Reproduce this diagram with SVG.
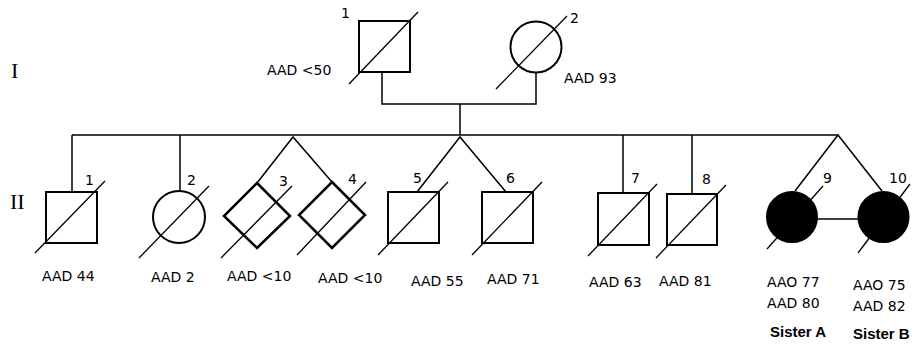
<svg xmlns="http://www.w3.org/2000/svg" width="920" height="345" viewBox="0 0 920 345">
<style>
.bg{fill:#fff}
.ln{stroke:#000;stroke-width:1.5;fill:none}
.sh{stroke:#000;stroke-width:2;fill:#fff}
.dm{stroke:#000;stroke-width:2.5;fill:#fff}
.af{stroke:#000;stroke-width:2;fill:#000}
.dg{stroke:#000;stroke-width:1.3}
.t{font-family:"DejaVu Sans",Verdana,sans-serif;font-size:14px;fill:#000}
.b{font-family:"Liberation Sans",Arial,sans-serif;font-size:15px;font-weight:bold;fill:#000}
.r{font-family:"Liberation Serif","Times New Roman",serif;font-size:22px;fill:#000}
</style>
<rect class="bg" x="0" y="0" width="920" height="345"/>
<text class="r" x="11" y="78">I</text>
<text class="r" x="10" y="209">II</text>
<g id="connectors">
<path class="ln" d="M382 72 V104 H536 V73"/>
<path class="ln" d="M460 104 V135"/>
<path class="ln" d="M72 135 H838"/>
<path class="ln" d="M72 135 V192"/>
<path class="ln" d="M180 135 V191"/>
<path class="ln" d="M257 183 L293 137 L332 182"/>
<path class="ln" d="M417 192 L460 137 L506 192"/>
<path class="ln" d="M623 135 V193"/>
<path class="ln" d="M692 135 V194"/>
<path class="ln" d="M795 191 L838 135 L882 191"/>
<path class="ln" d="M817 219 H858"/>
</g>
<g id="I-1">
<rect class="sh" x="359" y="21" width="51" height="51"/>
<line class="dg" x1="349" y1="84" x2="418" y2="12"/>
<text class="t" x="341" y="18">1</text>
<text class="t" x="267" y="75">AAD &lt;50</text>
</g>
<g id="I-2">
<circle class="sh" cx="536" cy="47" r="25.5"/>
<line class="dg" x1="496" y1="89" x2="567" y2="16"/>
<text class="t" x="570" y="23">2</text>
<text class="t" x="564" y="83">AAD 93</text>
</g>
<g id="II-1">
<rect class="sh" x="46" y="192" width="51" height="51"/>
<line class="dg" x1="35" y1="253" x2="105" y2="181"/>
<text class="t" x="85" y="185">1</text>
<text class="t" x="42" y="281">AAD 44</text>
</g>
<g id="II-2">
<circle class="sh" cx="179" cy="217" r="26"/>
<line class="dg" x1="139" y1="258" x2="209" y2="186"/>
<text class="t" x="187" y="185">2</text>
<text class="t" x="151" y="282">AAD 2</text>
</g>
<g id="II-3">
<polygon class="dm" points="257,183 290,216 257,248 224,216"/>
<line class="dg" x1="221" y1="258" x2="292" y2="186"/>
<text class="t" x="279" y="186">3</text>
<text class="t" x="227" y="281">AAD &lt;10</text>
</g>
<g id="II-4">
<polygon class="dm" points="332,182 365,215 332,248 299,215"/>
<line class="dg" x1="297" y1="255" x2="366" y2="182"/>
<text class="t" x="348" y="184">4</text>
<text class="t" x="318" y="283">AAD &lt;10</text>
</g>
<g id="II-5">
<rect class="sh" x="388" y="192" width="51" height="51"/>
<line class="dg" x1="378" y1="255" x2="448" y2="182"/>
<text class="t" x="413" y="183">5</text>
<text class="t" x="411" y="286">AAD 55</text>
</g>
<g id="II-6">
<rect class="sh" x="482" y="192" width="51" height="51"/>
<line class="dg" x1="472" y1="255" x2="542" y2="182"/>
<text class="t" x="506" y="183">6</text>
<text class="t" x="487" y="284">AAD 71</text>
</g>
<g id="II-7">
<rect class="sh" x="598" y="193" width="51" height="52"/>
<line class="dg" x1="588" y1="256" x2="657" y2="184"/>
<text class="t" x="631" y="183">7</text>
<text class="t" x="589" y="287">AAD 63</text>
</g>
<g id="II-8">
<rect class="sh" x="667" y="194" width="50" height="51"/>
<line class="dg" x1="656" y1="258" x2="726" y2="185"/>
<text class="t" x="702" y="184">8</text>
<text class="t" x="659" y="286">AAD 81</text>
</g>
<g id="II-9">
<circle class="af" cx="792" cy="217" r="25"/>
<line class="dg" x1="767" y1="249" x2="823" y2="186"/>
<text class="t" x="823" y="183">9</text>
<text class="t" x="767" y="287">AAO 77</text>
<text class="t" x="767" y="308">AAD 80</text>
<text class="b" x="770" y="337">Sister A</text>
</g>
<g id="II-10">
<circle class="af" cx="883.5" cy="217" r="25"/>
<line class="dg" x1="858" y1="253" x2="910" y2="184"/>
<text class="t" x="889" y="183">10</text>
<text class="t" x="853" y="290">AAO 75</text>
<text class="t" x="853" y="311">AAD 82</text>
<text class="b" x="853" y="339">Sister B</text>
</g>
</svg>
